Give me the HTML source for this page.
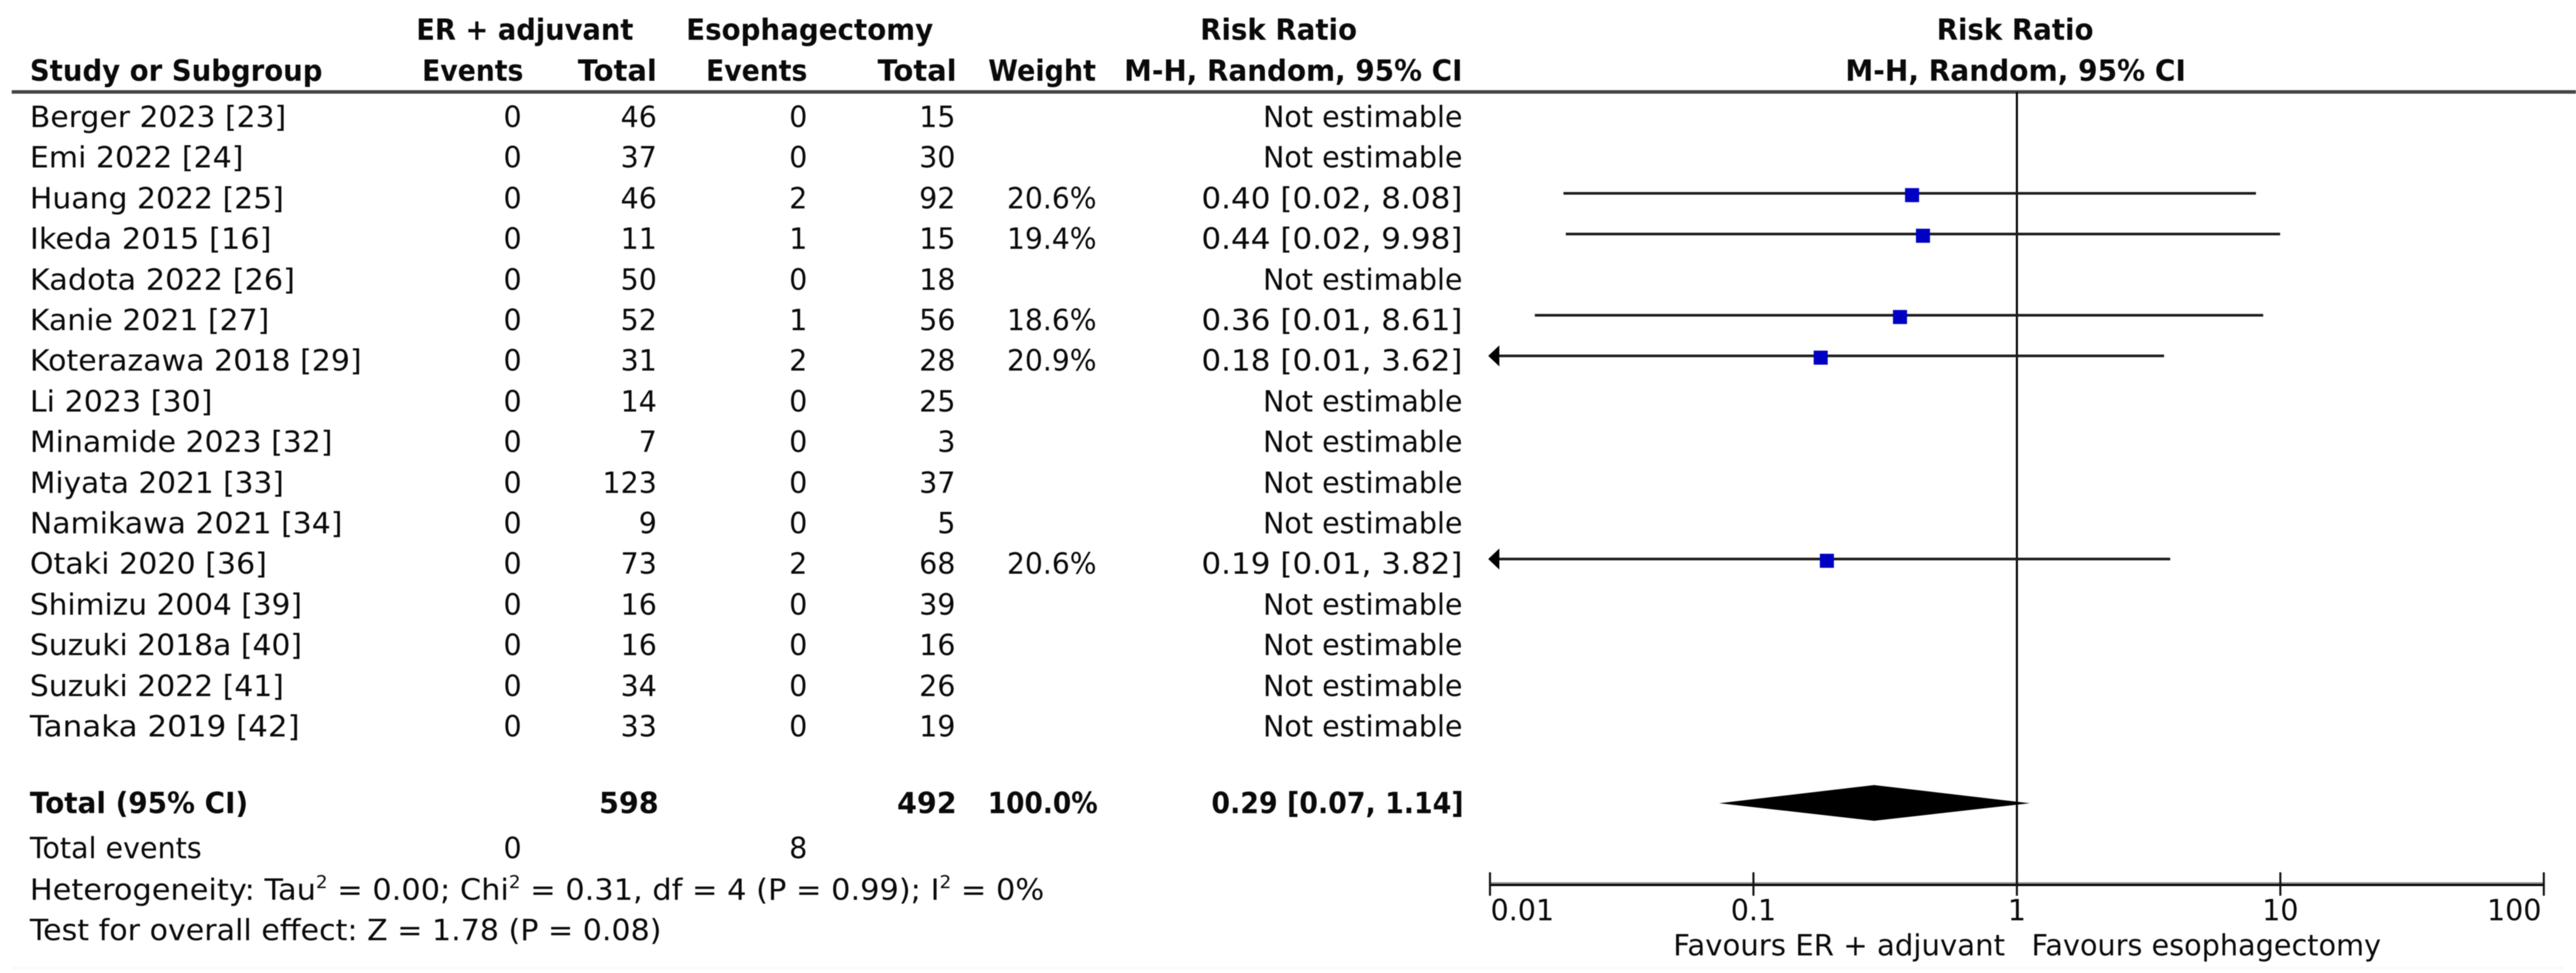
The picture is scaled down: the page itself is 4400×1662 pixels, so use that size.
<!DOCTYPE html>
<html lang="en">
<head>
<meta charset="utf-8">
<title>Forest plot: ER + adjuvant vs esophagectomy</title>
<style>
html,body{margin:0;padding:0;background:#fff;width:4400px;height:1662px;overflow:hidden}
svg{display:block;filter:blur(0.7px)}
text{font-family:"DejaVu Sans","Liberation Sans",sans-serif;font-size:50px;fill:#0a0a0a}
.b{font-weight:bold}
.e{text-anchor:end}
.m{text-anchor:middle}
</style>
</head>
<body>
<svg id="chart" xmlns="http://www.w3.org/2000/svg" width="4400" height="1662" viewBox="0 0 4400 1662">
<rect x="0" y="0" width="4400" height="1662" fill="#fff"/>
<rect x="20" y="1652" width="4360" height="3" fill="#f8f8f8"/>

<g>
<text class="b" x="711" y="68" data-w="371">ER + adjuvant</text>
<text class="b" x="1172" y="68" data-w="422">Esophagectomy</text>
<text class="b" x="2050" y="68" data-w="268">Risk Ratio</text>
<text class="b" x="3308" y="68" data-w="268">Risk Ratio</text>
<text class="b" x="51" y="138" data-w="500">Study or Subgroup</text>
<text class="b e" x="894" y="138" data-w="173">Events</text>
<text class="b e" x="1122" y="138" data-w="135">Total</text>
<text class="b e" x="1379" y="138" data-w="173">Events</text>
<text class="b e" x="1634" y="138" data-w="135">Total</text>
<text class="b e" x="1872" y="138" data-w="184">Weight</text>
<text class="b e" x="2498" y="138" data-w="578">M-H, Random, 95% CI</text>
<text class="b" x="3152" y="138" data-w="582">M-H, Random, 95% CI</text>
<rect x="20" y="154" width="4380" height="6" fill="#444"/>
</g>

<g>
<text x="51" y="217" data-w="438">Berger 2023 [23]</text>
<text class="e" x="891" y="217">0</text>
<text class="e" x="1122" y="217">46</text>
<text class="e" x="1379" y="217">0</text>
<text class="e" x="1632" y="217">15</text>
<text class="e" x="2498" y="217">Not estimable</text>
</g>
<g>
<text x="51" y="286" data-w="365">Emi 2022 [24]</text>
<text class="e" x="891" y="286">0</text>
<text class="e" x="1122" y="286">37</text>
<text class="e" x="1379" y="286">0</text>
<text class="e" x="1632" y="286">30</text>
<text class="e" x="2498" y="286">Not estimable</text>
</g>
<g>
<text x="51" y="356" data-w="434">Huang 2022 [25]</text>
<text class="e" x="891" y="356">0</text>
<text class="e" x="1122" y="356">46</text>
<text class="e" x="1379" y="356">2</text>
<text class="e" x="1632" y="356">92</text>
<text class="e" x="1873" y="356" data-w="153">20.6%</text>
<text class="e" x="2498" y="356" data-w="446">0.40 [0.02, 8.08]</text>
</g>
<g>
<text x="51" y="425" data-w="413">Ikeda 2015 [16]</text>
<text class="e" x="891" y="425">0</text>
<text class="e" x="1122" y="425">11</text>
<text class="e" x="1379" y="425">1</text>
<text class="e" x="1632" y="425">15</text>
<text class="e" x="1873" y="425" data-w="153">19.4%</text>
<text class="e" x="2498" y="425" data-w="446">0.44 [0.02, 9.98]</text>
</g>
<g>
<text x="51" y="495" data-w="453">Kadota 2022 [26]</text>
<text class="e" x="891" y="495">0</text>
<text class="e" x="1122" y="495">50</text>
<text class="e" x="1379" y="495">0</text>
<text class="e" x="1632" y="495">18</text>
<text class="e" x="2498" y="495">Not estimable</text>
</g>
<g>
<text x="51" y="564" data-w="409">Kanie 2021 [27]</text>
<text class="e" x="891" y="564">0</text>
<text class="e" x="1122" y="564">52</text>
<text class="e" x="1379" y="564">1</text>
<text class="e" x="1632" y="564">56</text>
<text class="e" x="1873" y="564" data-w="153">18.6%</text>
<text class="e" x="2498" y="564" data-w="446">0.36 [0.01, 8.61]</text>
</g>
<g>
<text x="51" y="633" data-w="567">Koterazawa 2018 [29]</text>
<text class="e" x="891" y="633">0</text>
<text class="e" x="1122" y="633">31</text>
<text class="e" x="1379" y="633">2</text>
<text class="e" x="1632" y="633">28</text>
<text class="e" x="1873" y="633" data-w="153">20.9%</text>
<text class="e" x="2498" y="633" data-w="446">0.18 [0.01, 3.62]</text>
</g>
<g>
<text x="51" y="703" data-w="312">Li 2023 [30]</text>
<text class="e" x="891" y="703">0</text>
<text class="e" x="1122" y="703">14</text>
<text class="e" x="1379" y="703">0</text>
<text class="e" x="1632" y="703">25</text>
<text class="e" x="2498" y="703">Not estimable</text>
</g>
<g>
<text x="51" y="772" data-w="517">Minamide 2023 [32]</text>
<text class="e" x="891" y="772">0</text>
<text class="e" x="1122" y="772">7</text>
<text class="e" x="1379" y="772">0</text>
<text class="e" x="1632" y="772">3</text>
<text class="e" x="2498" y="772">Not estimable</text>
</g>
<g>
<text x="51" y="842" data-w="434">Miyata 2021 [33]</text>
<text class="e" x="891" y="842">0</text>
<text class="e" x="1122" y="842">123</text>
<text class="e" x="1379" y="842">0</text>
<text class="e" x="1632" y="842">37</text>
<text class="e" x="2498" y="842">Not estimable</text>
</g>
<g>
<text x="51" y="911" data-w="534">Namikawa 2021 [34]</text>
<text class="e" x="891" y="911">0</text>
<text class="e" x="1122" y="911">9</text>
<text class="e" x="1379" y="911">0</text>
<text class="e" x="1632" y="911">5</text>
<text class="e" x="2498" y="911">Not estimable</text>
</g>
<g>
<text x="51" y="980" data-w="405">Otaki 2020 [36]</text>
<text class="e" x="891" y="980">0</text>
<text class="e" x="1122" y="980">73</text>
<text class="e" x="1379" y="980">2</text>
<text class="e" x="1632" y="980">68</text>
<text class="e" x="1873" y="980" data-w="153">20.6%</text>
<text class="e" x="2498" y="980" data-w="446">0.19 [0.01, 3.82]</text>
</g>
<g>
<text x="51" y="1050" data-w="465">Shimizu 2004 [39]</text>
<text class="e" x="891" y="1050">0</text>
<text class="e" x="1122" y="1050">16</text>
<text class="e" x="1379" y="1050">0</text>
<text class="e" x="1632" y="1050">39</text>
<text class="e" x="2498" y="1050">Not estimable</text>
</g>
<g>
<text x="51" y="1119" data-w="465">Suzuki 2018a [40]</text>
<text class="e" x="891" y="1119">0</text>
<text class="e" x="1122" y="1119">16</text>
<text class="e" x="1379" y="1119">0</text>
<text class="e" x="1632" y="1119">16</text>
<text class="e" x="2498" y="1119">Not estimable</text>
</g>
<g>
<text x="51" y="1189" data-w="434">Suzuki 2022 [41]</text>
<text class="e" x="891" y="1189">0</text>
<text class="e" x="1122" y="1189">34</text>
<text class="e" x="1379" y="1189">0</text>
<text class="e" x="1632" y="1189">26</text>
<text class="e" x="2498" y="1189">Not estimable</text>
</g>
<g>
<text x="51" y="1258" data-w="461">Tanaka 2019 [42]</text>
<text class="e" x="891" y="1258">0</text>
<text class="e" x="1122" y="1258">33</text>
<text class="e" x="1379" y="1258">0</text>
<text class="e" x="1632" y="1258">19</text>
<text class="e" x="2498" y="1258">Not estimable</text>
</g>

<g>
<text class="b" x="51" y="1389" data-w="373">Total (95% CI)</text>
<text class="b e" x="1125" y="1389">598</text>
<text class="b e" x="1634" y="1389">492</text>
<text class="b e" x="1875" y="1389" data-w="188">100.0%</text>
<text class="b e" x="2500" y="1389" data-w="431">0.29 [0.07, 1.14]</text>
</g>
<g>
<text x="51" y="1466">Total events</text>
<text class="e" x="891" y="1466">0</text>
<text class="e" x="1379" y="1466">8</text>
<text x="51" y="1537" data-w="1733">Heterogeneity: Tau<tspan font-size="30" dy="-20">2</tspan><tspan dy="20"> = 0.00; Chi</tspan><tspan font-size="30" dy="-20">2</tspan><tspan dy="20"> = 0.31, df = 4 (P = 0.99); I</tspan><tspan font-size="30" dy="-20">2</tspan><tspan dy="20"> = 0%</tspan></text>
<text x="51" y="1606" data-w="1079">Test for overall effect: Z = 1.78 (P = 0.08)</text>
</g>

<g id="plot"></g>

<text x="2858" y="1632" data-w="567">Favours ER + adjuvant</text>
<text x="3470" y="1632" data-w="597">Favours esophagectomy</text>
</svg>

<script>
var studies = ["Berger 2023","Emi 2022","Huang 2022","Ikeda 2015","Kadota 2022","Kanie 2021","Koterazawa 2018","Li 2023","Minamide 2023","Miyata 2021","Namikawa 2021","Otaki 2020","Shimizu 2004","Suzuki 2018a","Suzuki 2022","Tanaka 2019"];
var riskRatios = [null,null,0.40,0.44,null,0.36,0.18,null,null,null,null,0.19,null,null,null,null];
var ciLower = [null,null,0.019,0.0194,null,0.0148,0.009,null,null,null,null,0.0094,null,null,null,null];
var ciUpper = [null,null,8.08,9.98,null,8.61,3.62,null,null,null,null,3.82,null,null,null,null];
var pooledEstimate = 0.287;
var pooledLower = 0.074;
var pooledUpper = 1.12;
var axisTicks = [0.01,0.1,1,10,100];
var tickLabels = ["0.01","0.1","1","10","100"];

var NS = "http://www.w3.org/2000/svg";
var plot = document.getElementById("plot");
var AXIS_Y = 1510, TOP_Y = 157;
function xScale(v){ return 3445 + 450 * Math.log10(v); }
function rowY(i){ return 191.5 + 69.4 * i; }
function make(tag, attrs, parent){
  var el = document.createElementNS(NS, tag);
  for (var k in attrs) el.setAttribute(k, attrs[k]);
  (parent || plot).appendChild(el);
  return el;
}

var noEffect = make("line", {x1:xScale(1), x2:xScale(1), y1:TOP_Y, y2:AXIS_Y, stroke:"#000", "stroke-width":3.5});



var xMin = axisTicks[0], xMax = axisTicks[axisTicks.length - 1];
studies.forEach(function(name, i){
  if (riskRatios[i] === null) return;
  var y = rowY(i);
  var slug = name.toLowerCase().replace(/\s+/g, '-');
  var clipLow = ciLower[i] < xMin;
  var clipHigh = ciUpper[i] > xMax;
  var x1 = xScale(Math.max(ciLower[i], xMin));
  var x2 = xScale(Math.min(ciUpper[i], xMax));
  var ci = make("line", {x1:x1, x2:x2, y1:y, y2:y, stroke:"#1c1c1c", "stroke-width":4.5});
  
  
  if (clipLow) {
    var tip = x1 - 3;
    var arrowL = make("polygon", {points: tip + "," + y + " " + (tip + 19) + "," + (y - 18) + " " + (tip + 19) + "," + (y + 18), fill:"#000"});
    
    
  }
  if (clipHigh) {
    var tipR = x2 + 3;
    var arrowR = make("polygon", {points: tipR + "," + y + " " + (tipR - 19) + "," + (y - 18) + " " + (tipR - 19) + "," + (y + 18), fill:"#000"});
    
    
  }
  var square = make("rect", {x:xScale(riskRatios[i]) - 12, y:y + 3 - 12, width:24, height:24, fill:"#0000c4"});
  
  
});

var diamond = make("polygon", {
  points: xScale(pooledLower) + ",1372 " + xScale(pooledEstimate) + ",1341 " + xScale(pooledUpper) + ",1372 " + xScale(pooledEstimate) + ",1402",
  fill:"#000"
});



var axisGrey = make("rect", {x:xScale(xMin), y:1507, width:xScale(xMax) - xScale(xMin), height:3, fill:"#888"});


var axisBlack = make("rect", {x:xScale(xMin), y:1510, width:xScale(xMax) - xScale(xMin), height:3.5, fill:"#000"});



axisTicks.forEach(function(v, i){
  var x = xScale(v);
  var tick = make("line", {x1:x, x2:x, y1:1490, y2:1530, stroke:"#111", "stroke-width":3.5});
  
  
  var first = i === 0, last = i === axisTicks.length - 1;
  var label = make("text", {x: first ? x + 1 : (last ? x - 4 : x), y:1572, "text-anchor": first ? "start" : (last ? "end" : "middle")});
  label.textContent = tickLabels[i];
  
  
});

/* Horizontal fit: squeeze each text around its x anchor to match the reference widths */
var all = document.querySelectorAll("#chart text");
for (var n = 0; n < all.length; n++) {
  var t = all[n];
  var w = parseFloat(t.getAttribute("data-w"));
  var s = 0.975;
  if (w) {
    var len = t.getComputedTextLength();
    if (len > 0) s = w / len;
  }
  var ax = parseFloat(t.getAttribute("x"));
  t.setAttribute("transform", "translate(" + ax + " 0) scale(" + s.toFixed(4) + " 1) translate(" + (-ax) + " 0)");
}
</script>
</body>
</html>
